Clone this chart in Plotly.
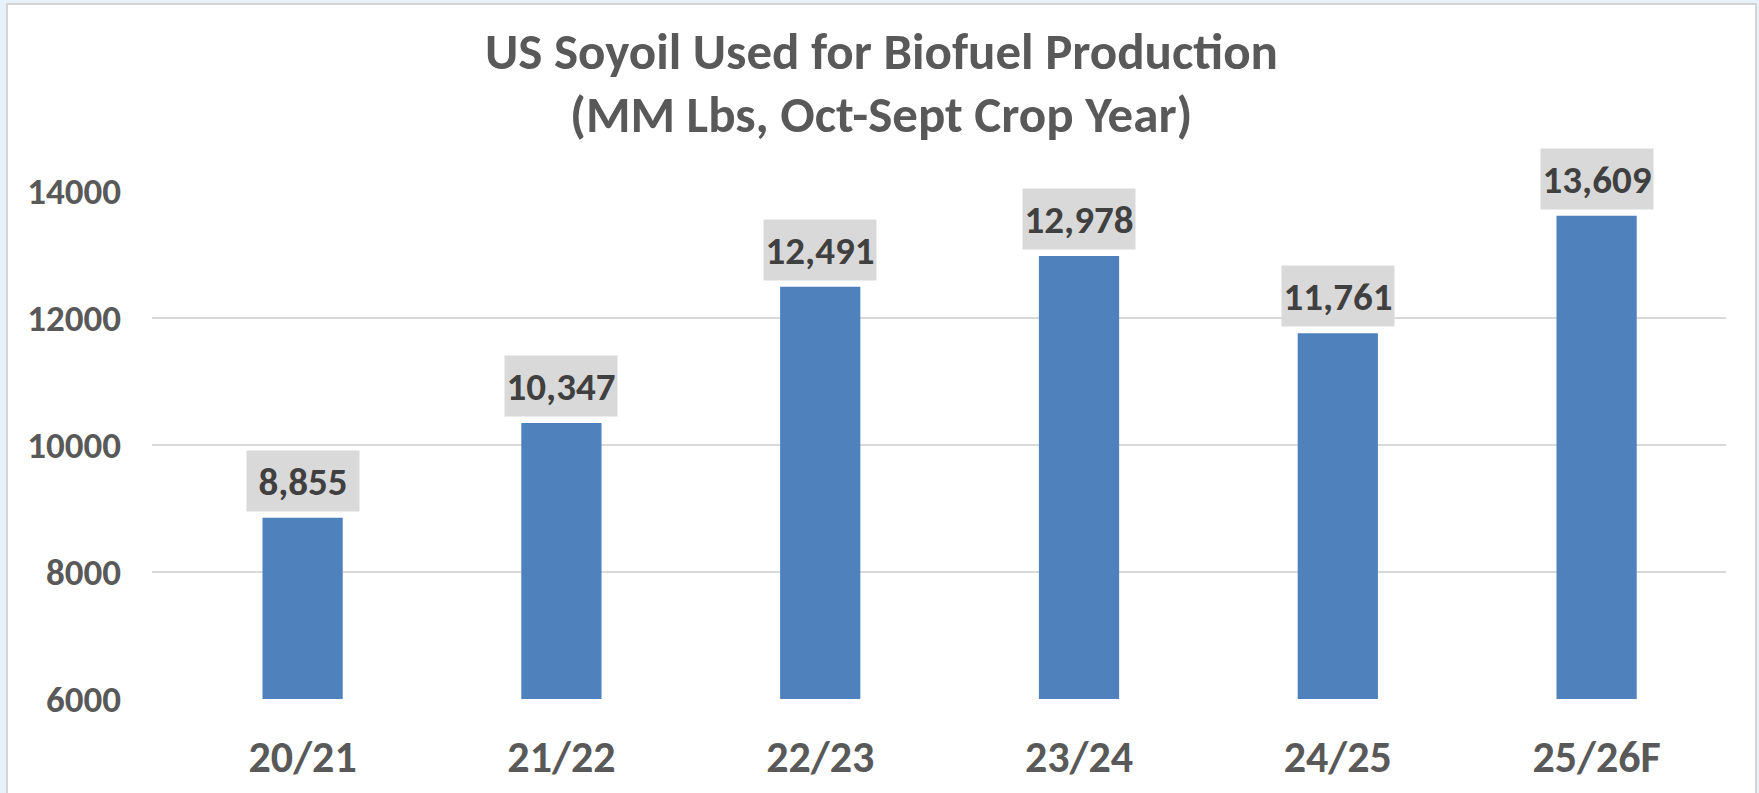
import plotly.graph_objects as go

categories = ["20/21", "21/22", "22/23", "23/24", "24/25", "25/26F"]
values = [8855, 10347, 12491, 12978, 11761, 13609]
y_ticks = [6000, 8000, 10000, 12000, 14000]
title_lines = ["US Soyoil Used for Biofuel Production", "(MM Lbs, Oct-Sept Crop Year)"]

FONT = "Carlito, Lato, sans-serif"
W, H = 1759, 793
ML, MR, MT, MB = 152, 33, 191, 94
PH = H - MT - MB
PW = W - ML - MR
BG = "#e8f0fa"

fig = go.Figure()
fig.add_trace(go.Bar(
    x=categories, y=values, width=0.31,
    marker=dict(color="#4f81bd", line=dict(width=0)),
    hoverinfo="skip",
))

for c, v in zip(categories, values):
    fig.add_annotation(
        x=c, y=v, xref="x", yref="y", text=f"<b>{v:,}</b>",
        showarrow=False, yanchor="bottom", yshift=6,
        bgcolor="#d9d9d9", borderpad=0, width=112, height=60,
        font=dict(family=FONT, size=39, color="#404040"),
    )

# title (two lines)
for line, ypx in zip(title_lines, [51, 114]):
    fig.add_annotation(
        x=(881 - ML) / PW, xref="paper", xanchor="center",
        y=(H - MB - ypx) / PH, yref="paper", yanchor="middle",
        text=f"<b>{line}</b>", showarrow=False,
        font=dict(family=FONT, size=51, color="#595959"),
    )

# chart area frame (white with light border) on light-blue page
fig.add_shape(type="rect", xref="paper", yref="paper",
              x0=(7 - ML) / PW, x1=(1756 - ML) / PW,
              y0=-0.3, y1=(H - MB - 4) / PH,
              fillcolor="white", line=dict(color="#d4d4d4", width=2), layer="below")

fig.update_layout(
    width=W, height=H,
    margin=dict(l=ML, r=MR, t=MT, b=MB),
    paper_bgcolor=BG,
    plot_bgcolor="rgba(0,0,0,0)",
    showlegend=False,
    xaxis=dict(
        type="category", range=[-0.582, 5.5], automargin=False,
        showgrid=False, showline=False, zeroline=False,
        ticks="", ticklabelstandoff=28,
        tickfont=dict(family=FONT, size=44, color="#595959", weight="bold"),
    ),
    yaxis=dict(
        range=[6000, 14000], tickvals=y_ticks, tickformat="d", automargin=False,
        showgrid=True, gridcolor="#d9d9d9", gridwidth=2,
        zeroline=False, showline=False, ticks="", ticklabelstandoff=30,
        tickfont=dict(family=FONT, size=37, color="#595959", weight="bold"),
    ),
)

fig.write_html(
    "out.html",
    config={"displayModeBar": False, "staticPlot": True},
    post_script=f"document.body.style.margin='0';document.body.style.background='{BG}';document.body.style.overflow='hidden';",
)
